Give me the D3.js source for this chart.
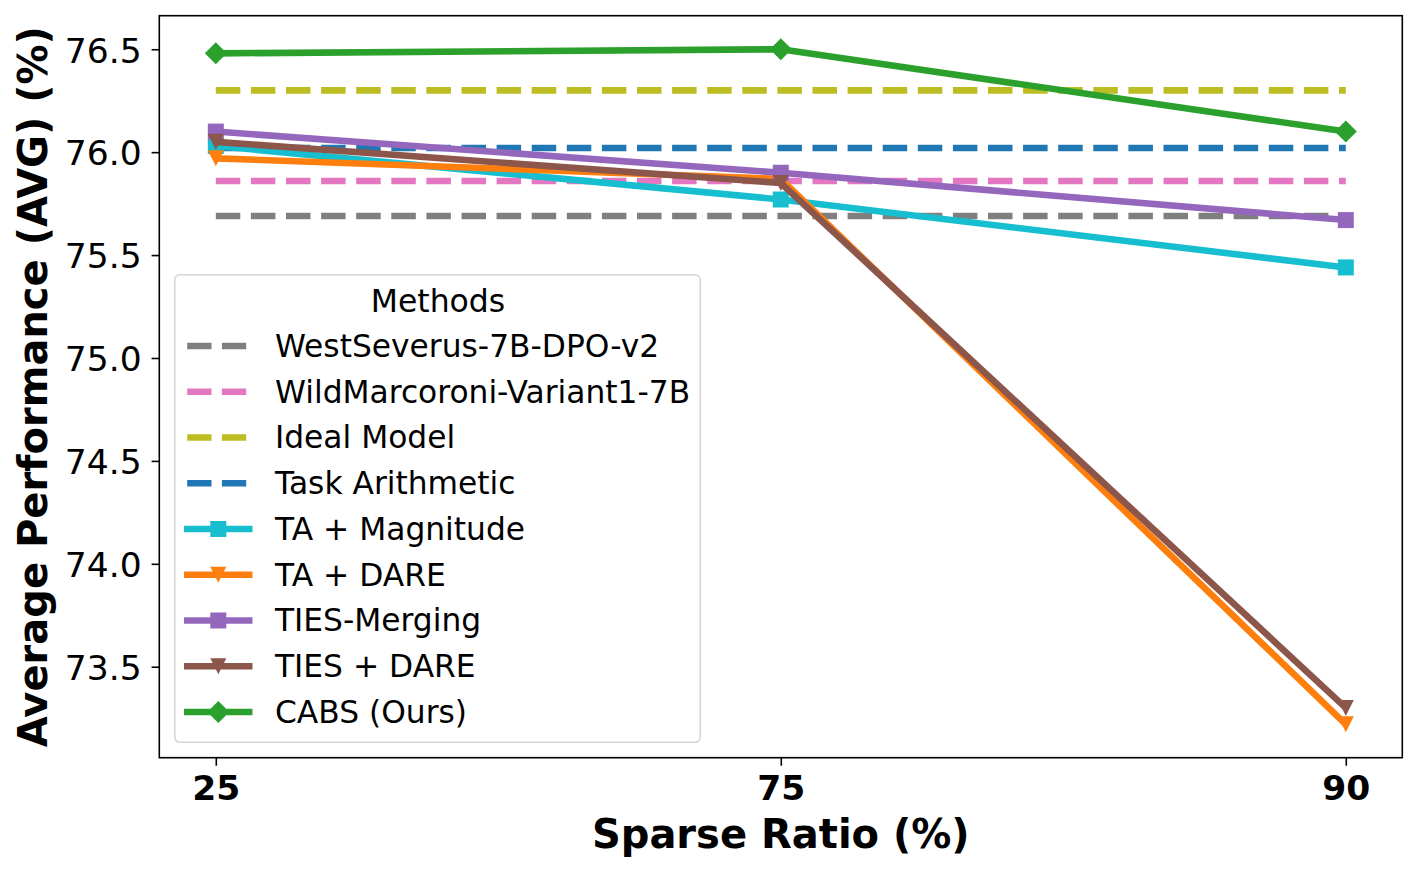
<!DOCTYPE html>
<html>
<head>
<meta charset="utf-8">
<script src="https://cdn.jsdelivr.net/npm/d3@7"></script>
<style>
html,body{margin:0;padding:0;background:#fff;}
svg{display:block;}
text{font-family:"DejaVu Sans",sans-serif;fill:#000;}
</style>
</head>
<body>
<svg id="chart" width="1419" height="872"></svg>
<script>
// ---- data ----
const categories = ["25", "75", "90"];
const yTicks = [73.5, 74.0, 74.5, 75.0, 75.5, 76.0, 76.5];

const baselineNames = ["WestSeverus-7B-DPO-v2", "WildMarcoroni-Variant1-7B", "Ideal Model", "Task Arithmetic"];
const baselineValues = [75.69, 75.86, 76.30, 76.02];
const baselineColors = ["#7f7f7f", "#e377c2", "#bcbd22", "#1f77b4"];

const methodNames = ["TA + Magnitude", "TA + DARE", "TIES-Merging", "TIES + DARE", "CABS (Ours)"];
const taMagnitude = [76.03, 75.77, 75.44];
const taDare = [75.97, 75.87, 73.22];
const tiesMerging = [76.10, 75.90, 75.67];
const tiesDare = [76.05, 75.85, 73.30];
const cabs = [76.48, 76.50, 76.10];
const methodValues = [taMagnitude, taDare, tiesMerging, tiesDare, cabs];
const methodColors = ["#17becf", "#ff7f0e", "#9467bd", "#8c564b", "#2ca02c"];
const methodMarkers = ["square", "tri", "square", "tri", "diamond"];

// ---- layout ----
const svg = d3.select("#chart");
const L = 159.3, R = 1402.3, T = 15.7, B = 757.7;
const x = d3.scalePoint().domain(categories).range([L, R]).padding(0.1);
const y = d3.scaleLinear().domain([73.058, 76.663]).range([B, T]);
const LW = 6.6;

function markerPath(type) {
  if (type === "square") { const s = 8; return `M${-s},${-s}L${s},${-s}L${s},${s}L${-s},${s}Z`; }
  if (type === "tri") { const s = 8; return `M${-s},${-s}L${s},${-s}L0,${s}Z`; }
  const d = 11; return `M0,${-d}L${d},0L0,${d}L${-d},0Z`;
}

const plot = svg.append("g");
// baselines (dashed)
baselineValues.forEach((v, i) => {
  plot.append("line")
    .attr("x1", x(categories[0])).attr("x2", x(categories[categories.length - 1]))
    .attr("y1", y(v)).attr("y2", y(v))
    .attr("stroke", baselineColors[i]).attr("stroke-width", LW)
    .attr("stroke-dasharray", "24.5,10.6");
});
// method lines
const line = d3.line().x((d, i) => x(categories[i])).y(d => y(d));
methodValues.forEach((vals, i) => {
  const g = plot.append("g");
  g.append("path").attr("d", line(vals)).attr("fill", "none")
    .attr("stroke", methodColors[i]).attr("stroke-width", LW).attr("stroke-linejoin", "round");
  vals.forEach((v, j) => {
    g.append("path").attr("d", markerPath(methodMarkers[i]))
      .attr("transform", `translate(${x(categories[j])},${y(v)})`)
      .attr("fill", methodColors[i]);
  });
});

// frame
svg.append("rect").attr("x", L).attr("y", T).attr("width", R - L).attr("height", B - T)
  .attr("fill", "none").attr("stroke", "#000").attr("stroke-width", 1.6);

// axes
const yAxis = svg.append("g").attr("transform", `translate(${L},0)`)
  .call(d3.axisLeft(y).tickValues(yTicks).tickFormat(d3.format(".1f")).tickSize(7.7).tickSizeOuter(0).tickPadding(10));
yAxis.select(".domain").remove();
yAxis.selectAll("line").attr("stroke", "#000").attr("stroke-width", 1.6);
yAxis.selectAll("text").attr("font-size", "34.5px").attr("font-family", "DejaVu Sans").attr("dy", "0.37em").attr("fill", "#000");

const xAxis = svg.append("g").attr("transform", `translate(0,${B})`)
  .call(d3.axisBottom(x).tickSize(8).tickSizeOuter(0).tickPadding(10));
xAxis.select(".domain").remove();
xAxis.selectAll("line").attr("stroke", "#000").attr("stroke-width", 1.6);
xAxis.selectAll("text").attr("font-size", "34.5px").attr("font-family", "DejaVu Sans").attr("font-weight", "bold").attr("fill", "#000");

// axis titles
svg.append("text").attr("x", (L + R) / 2).attr("y", 848).attr("text-anchor", "middle")
  .attr("font-size", "40px").attr("font-weight", "bold").text("Sparse Ratio (%)");
svg.append("text").attr("transform", `translate(47,${(T + B) / 2}) rotate(-90)`).attr("text-anchor", "middle")
  .attr("font-size", "40px").attr("font-weight", "bold").text("Average Performance (AVG) (%)");

// legend
const lg = svg.append("g");
lg.append("rect").attr("x", 174.8).attr("y", 274.8).attr("width", 525.5).attr("height", 467.5)
  .attr("rx", 5).attr("fill", "#fff").attr("fill-opacity", 0.8).attr("stroke", "#d6d6d6").attr("stroke-width", 1.6);
lg.append("text").attr("x", 438).attr("y", 311.5).attr("text-anchor", "middle").attr("font-size", "31.5px").text("Methods");
const rowY0 = 346, rowStep = 45.75;
const allNames = baselineNames.concat(methodNames);
allNames.forEach((name, k) => {
  const cy = rowY0 + k * rowStep;
  if (k < baselineNames.length) {
    lg.append("line").attr("x1", 187.2).attr("x2", 248).attr("y1", cy).attr("y2", cy)
      .attr("stroke", baselineColors[k]).attr("stroke-width", LW).attr("stroke-dasharray", "24.3,10.4");
  } else {
    const i = k - baselineNames.length;
    lg.append("line").attr("x1", 184).attr("x2", 252.5).attr("y1", cy).attr("y2", cy)
      .attr("stroke", methodColors[i]).attr("stroke-width", LW);
    lg.append("path").attr("d", markerPath(methodMarkers[i])).attr("transform", `translate(218.3,${cy})`)
      .attr("fill", methodColors[i]);
  }
  lg.append("text").attr("x", 275).attr("y", cy + 10.9).attr("font-size", "31.3px").text(name);
});
</script>
</body>
</html>
